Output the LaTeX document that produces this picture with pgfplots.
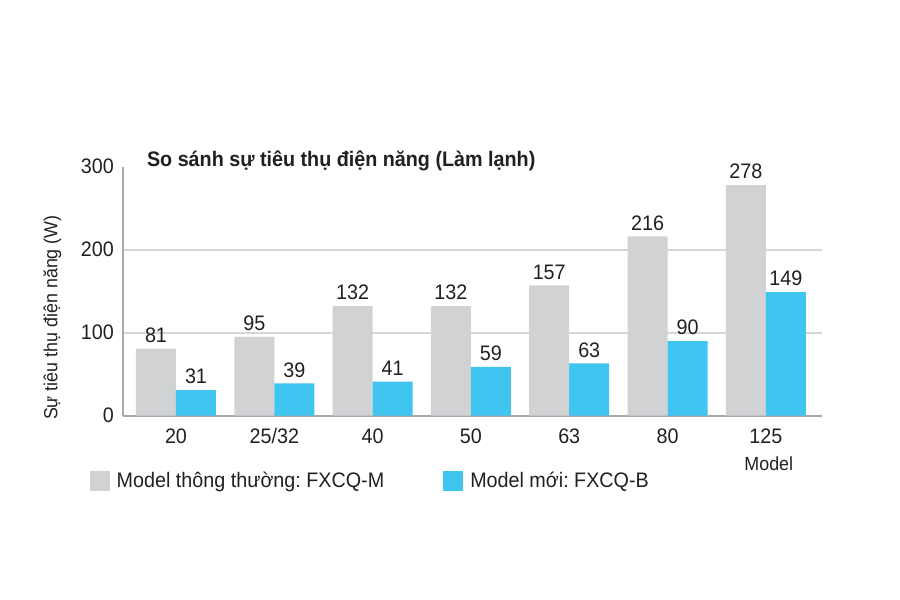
\documentclass[border=0pt]{standalone}
\usepackage{pgfplots}
\pgfplotsset{compat=1.18}
\usepackage{fontspec}
\setmainfont{Liberation Sans}[FakeStretch=0.94]
\definecolor{oldgray}{HTML}{D1D2D4}
\definecolor{newblue}{HTML}{40C4F0}
\definecolor{gridgray}{HTML}{D6D6D6}
\definecolor{axisgray}{HTML}{A7A9AC}
\definecolor{ink}{HTML}{231F20}
\newcommand{\txt}{\fontsize{10.5}{12}\selectfont}
\newcommand{\smalltxt}{\fontsize{9.5}{11}\selectfont}

\begin{document}
\frenchspacing
\begin{tikzpicture}[x=0.5pt,y=0.5pt]
\path[use as bounding box] (0,0) rectangle (900,600);
\begin{axis}[
  at={(125,222)}, anchor=south west,
  scale only axis, width=349.5pt, height=124.5pt,
  xmin=-0.54, xmax=6.57, ymin=0, ymax=300,
  ybar=0pt, bar width=20pt,
  axis x line=bottom, axis y line=left,
  axis line style={axisgray, line width=0.8pt, -},
  major tick length=0pt,
  xtick={0,...,6},
  xticklabels={20,25/32,40,50,63,80,125},
  ytick={0,100,200},
  extra y ticks={300},
  extra y tick style={grid=none},
  ymajorgrids,
  grid style={gridgray, line width=0.8pt},
  /pgf/number format/assume math mode=true,
  tick label style={font=\txt, text=ink},
  xticklabel style={anchor=base, yshift=-14pt},
  yticklabel style={anchor=east, xshift=-1pt},
  nodes near coords,
  every node near coord/.append style={font=\txt, text=ink, anchor=south, inner sep=0pt, yshift=2.8pt},
  title={So sánh sự tiêu thụ điện năng (Làm lạnh)},
  every axis title shift=0pt,
  title style={at={(axis description cs:0.034,1.0)}, anchor=base west, font=\bfseries\txt, text=ink, inner sep=0pt},
  ylabel={Sự tiêu thụ điện năng (W)},
  ylabel style={at={(axis description cs:-0.101,0.394)}, anchor=center, font=\smalltxt, text=ink},
  xlabel={Model},
  xlabel style={at={(axis description cs:0.924,-0.221)}, anchor=base, font=\smalltxt, text=ink, inner sep=0pt},
  legend columns=2,
  legend cell align=left,
  legend image code/.code={\fill[#1] (0pt,-5pt) rectangle (10pt,5pt);},
  legend style={at={(axis description cs:-0.048,-0.209)}, anchor=north west,
    draw=none, fill=none, inner sep=0pt, font=\txt, text=ink,
    /tikz/every odd column/.append style={column sep=1.5pt},
    /tikz/every even column/.append style={column sep=27.5pt}},
]
\addplot[fill=oldgray, draw=none] coordinates {(0,81) (1,95) (2,132) (3,132) (4,157) (5,216) (6,278)};
\addplot[fill=newblue, draw=none] coordinates {(0,31) (1,39) (2,41) (3,59) (4,63) (5,90) (6,149)};
\legend{Model thông thường: FXCQ-M, Model mới: FXCQ-B}
\end{axis}
\end{tikzpicture}
\end{document}
